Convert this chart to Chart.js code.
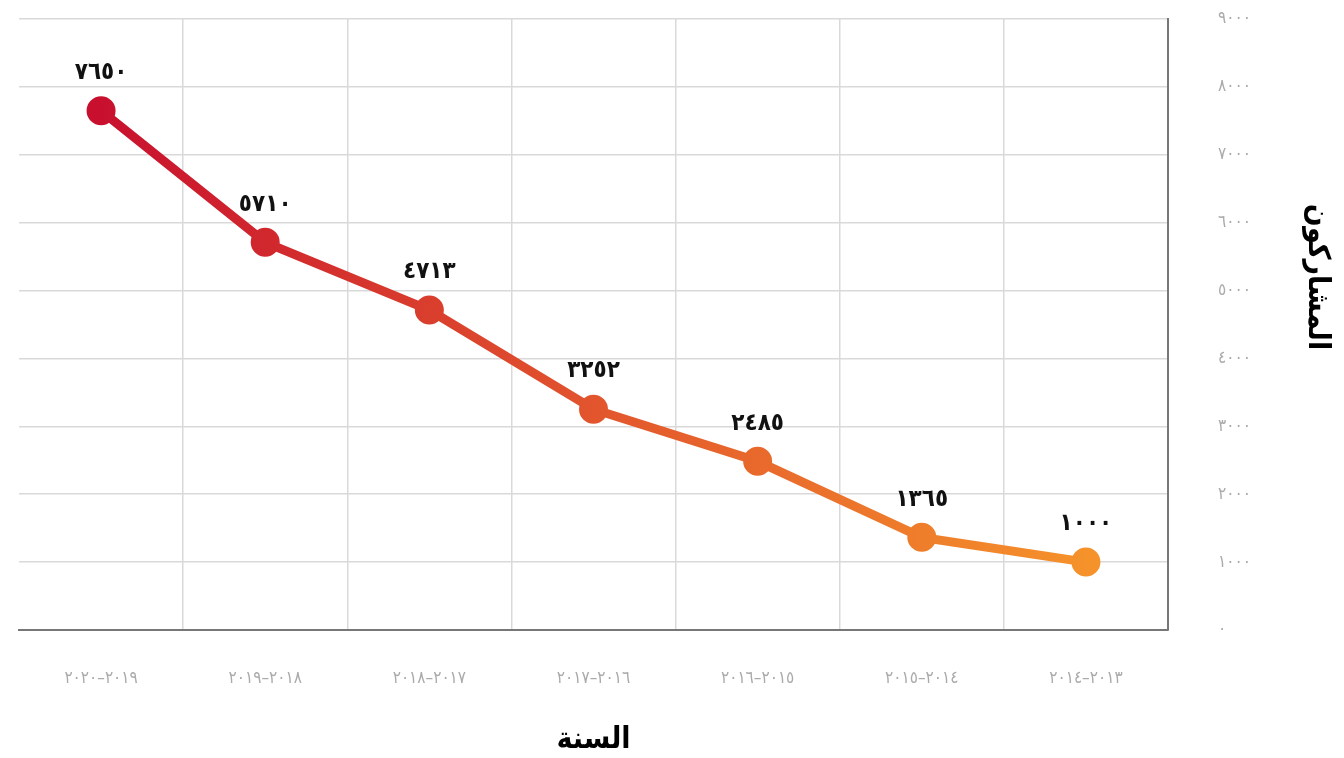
<!DOCTYPE html>
<html lang="ar">
<head>
<meta charset="utf-8">
<script src="https://cdn.jsdelivr.net/npm/chart.js@4/dist/chart.umd.min.js"></script>
<style>
  html, body { margin: 0; padding: 0; background: #fff; }
  #wrap { width: 1344px; height: 758px; position: relative; }
</style>
</head>
<body>
<div id="wrap"><canvas id="c"></canvas></div>
<script>
// Categories in chronological order (drawn right-to-left)
const seasons = ['٢٠١٣–٢٠١٤', '٢٠١٤–٢٠١٥', '٢٠١٥–٢٠١٦', '٢٠١٦–٢٠١٧', '٢٠١٧–٢٠١٨', '٢٠١٨–٢٠١٩', '٢٠١٩–٢٠٢٠'];
const participants = [1000, 1365, 2485, 3252, 4713, 5710, 7650];
const yTicks = [0, 1000, 2000, 3000, 4000, 5000, 6000, 7000, 8000, 9000];
const xTitle = 'السنة';
const yTitle = 'المشاركون';

const arDigits = '٠١٢٣٤٥٦٧٨٩';
function toArabic(n) { return String(n).replace(/[0-9]/g, d => arDigits[+d]); }

const FONT = '"DejaVu Sans Condensed", "DejaVu Sans", sans-serif';

function grad(ctx) {
  const chart = ctx.chart;
  const a = chart.chartArea;
  if (!a) return '#e05a2a';
  const g = chart.ctx.createLinearGradient(a.left + 80, 0, a.right - 80, 0);
  g.addColorStop(0, '#c8102e');
  g.addColorStop(0.5, '#e2552d');
  g.addColorStop(1, '#f5922a');
  return g;
}

const labelPlugin = {
  id: 'valueLabels',
  afterDatasetsDraw(chart) {
    const ctx = chart.ctx;
    const meta = chart.getDatasetMeta(0);
    ctx.save();
    ctx.font = 'bold 24px ' + FONT;
    ctx.fillStyle = '#111';
    ctx.textAlign = 'center';
    ctx.textBaseline = 'middle';
    meta.data.forEach((pt, i) => {
      ctx.fillText(toArabic(participants[i]), pt.x, pt.y - 38);
    });
    ctx.restore();
  },
  afterDraw(chart) {
    // vertical axis title on the right side (rotated clockwise)
    const ctx = chart.ctx;
    const y = chart.scales.y;
    ctx.save();
    ctx.translate(y.right - 27, chart.chartArea.top + 258);
    ctx.rotate(Math.PI / 2);
    ctx.font = 'bold 30px ' + FONT;
    ctx.fillStyle = '#000';
    ctx.textAlign = 'center';
    ctx.textBaseline = 'middle';
    ctx.fillText(yTitle, 0, 0);
    ctx.restore();
  }
};

new Chart(document.getElementById('c'), {
  type: 'line',
  data: {
    labels: seasons,
    datasets: [{
      data: participants,
      borderColor: grad,
      backgroundColor: grad,
      pointBackgroundColor: grad,
      pointBorderColor: grad,
      borderWidth: 9,
      pointRadius: 10,
      pointHoverRadius: 10,
      tension: 0,
      fill: false
    }]
  },
  options: {
    responsive: true,
    maintainAspectRatio: false,
    animation: false,
    layout: { padding: { left: 18, top: 11, right: 0, bottom: 0 } },
    plugins: { legend: { display: false }, tooltip: { enabled: false } },
    scales: {
      x: {
        reverse: true,
        offset: true,
        afterFit: (s) => { s.height = 128; s.paddingLeft = 0; s.paddingRight = 0; },
        grid: {
          offset: true,
          drawTicks: false,
          color: (c) => (c.type === 'tick' && c.index > 0) ? '#d9d9d9' : 'rgba(0,0,0,0)',
          lineWidth: 1.5
        },
        border: { display: true, color: '#777', width: 2 },
        ticks: {
          padding: 38,
          color: '#aaa',
          font: { family: FONT, size: 17 },
          maxRotation: 0
        },
        title: {
          display: true,
          text: xTitle,
          color: '#000',
          font: { family: FONT, size: 30, weight: 'bold' },
          padding: { top: 0, bottom: 0 }
        }
      },
      y: {
        position: 'right',
        min: 0,
        max: 9000,
        afterBuildTicks: (axis) => { axis.ticks = yTicks.map(v => ({ value: v })); },
        afterFit: (s) => { s.width = 176; s.paddingTop = 0; s.paddingBottom = 0; },
        grid: { drawTicks: false, color: '#d9d9d9', lineWidth: 1.5 },
        border: { display: true, color: '#777', width: 2 },
        ticks: {
          padding: 50,
          color: '#aaa',
          font: { family: FONT, size: 17 },
          callback: (v) => toArabic(v)
        },
        title: { display: false }
      }
    }
  },
  plugins: [labelPlugin]
});
</script>
</body>
</html>
